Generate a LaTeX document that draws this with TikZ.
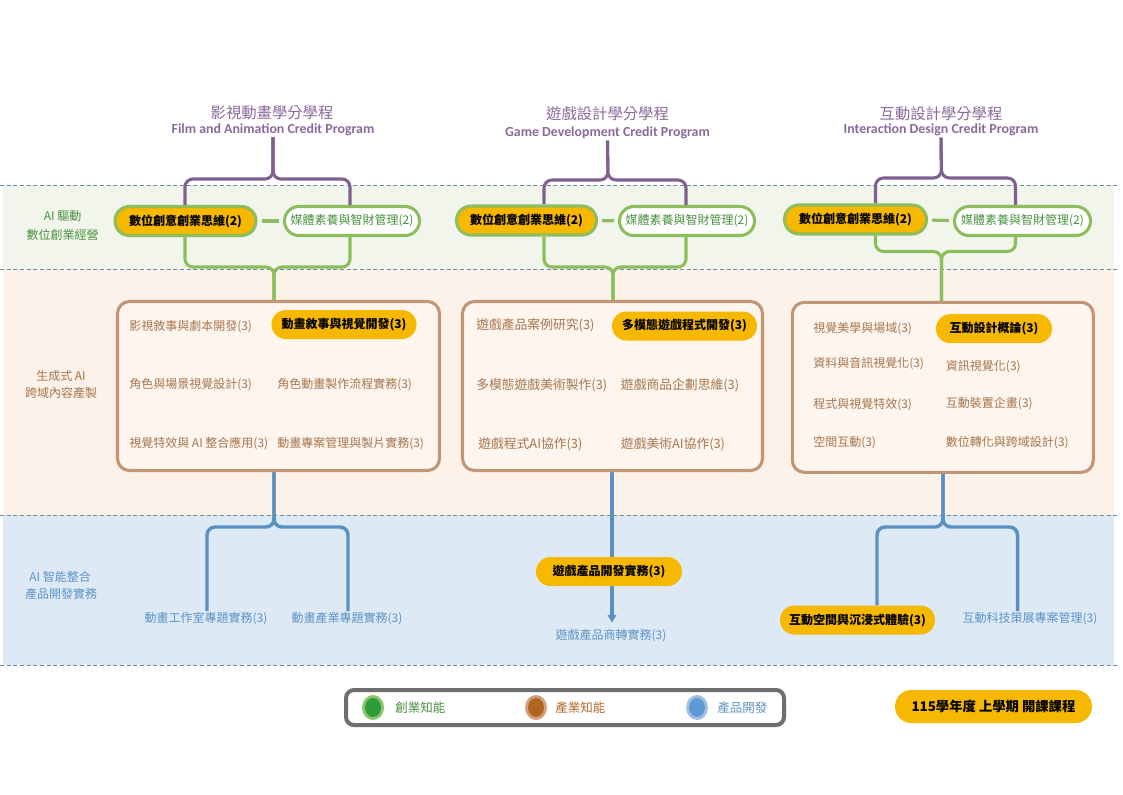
\documentclass[tikz,border=0pt]{standalone}
\usepackage{fontspec}
\setmainfont{Noto Sans CJK TC}
\newfontfamily\carlito{Carlito}
\usetikzlibrary{arrows.meta}
\definecolor{purpL}{HTML}{806090}
\definecolor{purpT}{HTML}{8A6A9C}
\definecolor{grnL}{HTML}{8DBD5C}
\definecolor{grnT}{HTML}{4A9040}
\definecolor{orng}{HTML}{F6B800}
\definecolor{brnB}{HTML}{C19678}
\definecolor{brnT}{HTML}{A6764E}
\definecolor{bluL}{HTML}{5B91C0}
\definecolor{bluT}{HTML}{5F93C5}
\definecolor{bandG}{HTML}{F1F5EB}
\definecolor{bandO}{HTML}{FDF2E9}
\definecolor{bandB}{HTML}{DDEAF6}
\definecolor{boxF}{HTML}{FEF5EE}
\definecolor{dashC}{HTML}{6E8BA6}
\definecolor{legB}{HTML}{6E6E6E}
\definecolor{lgGo}{HTML}{8CC46B}
\definecolor{lgGi}{HTML}{2E9B3C}
\definecolor{lgBo}{HTML}{D2A07E}
\definecolor{lgBi}{HTML}{B0661F}
\definecolor{lgLo}{HTML}{A4C0E2}
\definecolor{lgLi}{HTML}{5E9AD3}
\definecolor{lgBT}{HTML}{B06A28}
\pgfdeclarelayer{bands}
\pgfdeclarelayer{lines}
\pgfsetlayers{bands,lines,main}
\tikzset{
 purpline/.style={draw=purpL, line width=2.3pt, rounded corners=6pt},
 grnline/.style={draw=grnL, line width=2.3pt, rounded corners=6pt},
 bluline/.style={draw=bluL, line width=2.6pt, rounded corners=6pt},
 dashln/.style={draw=dashC, line width=0.6pt, dash pattern=on 3pt off 2pt},
 tcn/.style={text=purpT, font=\fontsize{11.5}{13}\selectfont, inner sep=0pt},
 ten/.style={text=purpT, font=\carlito\bfseries\fontsize{10.4}{12}\selectfont, inner sep=1pt},
 rowlab/.style={font=\fontsize{9}{11}\selectfont, inner sep=0pt},
 gnode/.style={draw=grnL, line width=2.3pt, rounded corners=10.8pt, minimum height=21.75pt, inner sep=0pt},
 gfill/.style={gnode, fill=orng, font=\bfseries\fontsize{9}{11}\selectfont},
 gwhite/.style={gnode, fill=white, text=grnT, font=\fontsize{9}{11}\selectfont},
 pill/.style={fill=orng, rounded corners=10.8pt, minimum height=21.75pt, inner sep=0pt, font=\bfseries\fontsize{9}{11}\selectfont},
 brbox/.style={draw=brnB, fill=boxF, line width=2.3pt, rounded corners=9pt, inner sep=0pt},
 item/.style={anchor=west, text=brnT, font=\fontsize{9}{11}\selectfont, inner sep=0pt},
 itemb/.style={item, font=\fontsize{9.6}{11}\selectfont},
 blab/.style={text=bluT, font=\fontsize{9}{11}\selectfont, inner sep=1pt},
 legtxt/.style={anchor=west, font=\fontsize{9.4}{11}\selectfont, inner sep=0pt},
}
\begin{document}
\begin{tikzpicture}[x=0.75pt,y=-0.75pt]
\useasboundingbox (0,0) rectangle (1123,794);
\begin{pgfonlayer}{bands}
\fill[white] (0,0) rectangle (1123,794);
\fill[bandG] (3,185) rectangle (1114,269);
\fill[bandO] (3,269) rectangle (1114,515);
\fill[bandB] (3,515) rectangle (1114,665);
\foreach \yy in {185,269,515,665} \draw[dashln] (0,\yy) -- (1118,\yy);
\end{pgfonlayer}

% row labels
\node[rowlab, text=grnT] (r1a) at (62.5,216) {AI 驅動};
\node[rowlab, text=grnT] (r1b) at (62.5,235) {數位創業經營};
\node[rowlab, text=brnT] (r2a) at (61,376) {生成式 AI};
\node[rowlab, text=brnT] (r2b) at (61,393) {跨域內容產製};
\node[rowlab, text=bluT] (r3a) at (60,577) {AI 智能整合};
\node[rowlab, text=bluT] (r3b) at (61,594) {產品開發實務};

% titles
\node[tcn] (tc1) at (272,112.7) {影視動畫學分學程};
\node[ten] (te1) at (273,129.5) {Film and Animation Credit Program};
\node[tcn] (tc2) at (607.5,114) {遊戲設計學分學程};
\node[ten] (te2) at (607.5,133) {Game Development Credit Program};
\node[tcn] (tc3) at (941,113.3) {互動設計學分學程};
\node[ten] (te3) at (941,130) {Interaction Design Credit Program};

% green row nodes
\node[gfill, minimum width=105.75pt] (a1) at (185.5,221) {數位創意創業思維(2)};
\node[gwhite, minimum width=101.25pt] (a2) at (352,221) {媒體素養與智財管理(2)};
\node[gfill, minimum width=105pt] (c1) at (526.5,220.5) {數位創意創業思維(2)};
\node[gwhite, minimum width=101.25pt] (c2) at (687,221) {媒體素養與智財管理(2)};
\node[gfill, minimum width=106.5pt] (e1) at (855.5,219.5) {數位創意創業思維(2)};
\node[gwhite, minimum width=102pt] (e2) at (1022.5,221) {媒體素養與智財管理(2)};
\draw[grnline, shorten <=3pt, shorten >=3pt] (a1) -- (a2);
\draw[grnline, shorten <=3pt, shorten >=3pt] (c1) -- (c2);
\draw[grnline, shorten <=3pt, shorten >=3pt] (e1) -- (e2);

% boxes
\node[brbox, minimum width=241.5pt, minimum height=126.75pt] (b1) at (278.5,386) {};
\node[brbox, minimum width=225pt, minimum height=126.75pt] (b2) at (612.5,386) {};
\node[brbox, minimum width=225.75pt, minimum height=127.5pt] (b3) at (942.8,387.3) {};

% box 1 items
\node[item] (i11) at (129,326.7) {影視敘事與劇本開發(3)};
\node[pill, minimum width=108.75pt] (p1) at (344,324.5) {動畫敘事與視覺開發(3)};
\node[item] (i13) at (129,385) {角色與場景視覺設計(3)};
\node[item] (i14) at (277,385) {角色動畫製作流程實務(3)};
\node[item] (i15) at (129,443.3) {視覺特效與 AI 整合應用(3)};
\node[item] (i16) at (277,443.3) {動畫專案管理與製片實務(3)};

% box 2 items
\node[itemb] (i21) at (476,325) {遊戲產品案例研究(3)};
\node[pill, minimum width=108.75pt] (p2) at (684.5,326) {多模態遊戲程式開發(3)};
\node[itemb] (i23) at (476,385) {多模態遊戲美術製作(3)};
\node[itemb] (i24) at (620.7,385) {遊戲商品企劃思維(3)};
\node[itemb] (i25) at (478,444) {遊戲程式AI協作(3)};
\node[itemb] (i26) at (620.7,444) {遊戲美術AI協作(3)};

% box 3 items
\node[item] (i31) at (813,329) {視覺美學與場域(3)};
\node[pill, minimum width=87pt] (p3) at (994,328.7) {互動設計概論(3)};
\node[item] (i33) at (813,364) {資料與音訊視覺化(3)};
\node[item] (i34) at (945.7,366.7) {資訊視覺化(3)};
\node[item] (i35) at (813,405) {程式與視覺特效(3)};
\node[item] (i36) at (945.7,404) {互動裝置企畫(3)};
\node[item] (i37) at (813,443) {空間互動(3)};
\node[item] (i38) at (945.7,443) {數位轉化與跨域設計(3)};

% bottom row
\node[blab] (l1) at (206,619) {動畫工作室專題實務(3)};
\node[blab] (l2) at (347,619) {動畫產業專題實務(3)};
\node[pill, minimum width=109.5pt] (g2) at (609,571.5) {遊戲產品開發實務(3)};
\node[blab] (l6) at (611,636) {遊戲產品商轉實務(3)};
\node[pill, minimum width=116.25pt] (g3) at (857.5,620) {互動空間與沉浸式體驗(3)};
\node[blab] (l9) at (1030,619) {互動科技策展專案管理(3)};

% connectors
\begin{pgfonlayer}{lines}
% purple braces
\draw[purpline] (te1.south) -- (273,179) -| (185,0 |- a1.north);
\draw[purpline] (te1.south) -- (273,179) -| (350,0 |- a2.north);
\draw[purpline] (te2.south) -- (608,180) -| (544,0 |- c1.north);
\draw[purpline] (te2.south) -- (608,180) -| (686,0 |- c2.north);
\draw[purpline] (te3.south) -- (941.5,178) -| (875.5,0 |- e1.north);
\draw[purpline] (te3.south) -- (941.5,178) -| (1015.5,0 |- e2.north);
% green braces
\draw[grnline] (185,0 |- a1.south) |- (274,267) -- (274,0 |- b1.north);
\draw[grnline] (350,0 |- a2.south) |- (274,267) -- (274,0 |- b1.north);
\draw[grnline] (544,0 |- c1.south) |- (613,267) -- (613,0 |- b2.north);
\draw[grnline] (686,0 |- c2.south) |- (613,267) -- (613,0 |- b2.north);
\draw[grnline] (875.5,0 |- e1.south) |- (941.5,251.5) -- (941.5,0 |- b3.north);
\draw[grnline] (1015.5,0 |- e2.south) |- (941.5,251.5) -- (941.5,0 |- b3.north);
% blue braces
\draw[bluline] (274,0 |- b1.south) -- (274,527) -| (207,0 |- l1.north);
\draw[bluline] (274,0 |- b1.south) -- (274,527) -| (348,0 |- l2.north);
\draw[bluline] (612,0 |- b2.south) -- (612,0 |- g2.north);
\draw[bluline, -{Triangle[length=6pt,width=6.5pt]}, shorten >=4pt] (612,0 |- g2.south) -- (612,0 |- l6.north);
\draw[bluline] (943,0 |- b3.south) -- (943,527) -| (877,0 |- g3.north);
\draw[bluline] (943,0 |- b3.south) -- (943,527) -| (1017.5,0 |- l9.north);
\end{pgfonlayer}

% legend
\draw[draw=legB, line width=3pt, fill=white, rounded corners=6pt] (346,690) rectangle (784,725);
\fill[lgGo] (373,707.5) ellipse (11 and 12.5);
\fill[lgGi] (373,707.5) ellipse (8 and 9.5);
\fill[lgBo] (536,707.5) ellipse (11 and 12.5);
\fill[lgBi] (536,707.5) ellipse (8 and 9.5);
\fill[lgLo] (697,707.5) ellipse (11 and 12.5);
\fill[lgLi] (697,707.5) ellipse (8 and 9.5);
\node[legtxt, text=grnT] (lg1) at (395,708) {創業知能};
\node[legtxt, text=lgBT] (lg2) at (555,708) {產業知能};
\node[legtxt, text=bluT] (lg3) at (717,708) {產品開發};

% badge
\node[pill, minimum width=147.75pt, minimum height=24.75pt, rounded corners=12.3pt, font=\bfseries\fontsize{10}{12}\selectfont] (badge) at (993.5,706.5) {115學年度 上學期 開課課程};
\end{tikzpicture}
\end{document}
